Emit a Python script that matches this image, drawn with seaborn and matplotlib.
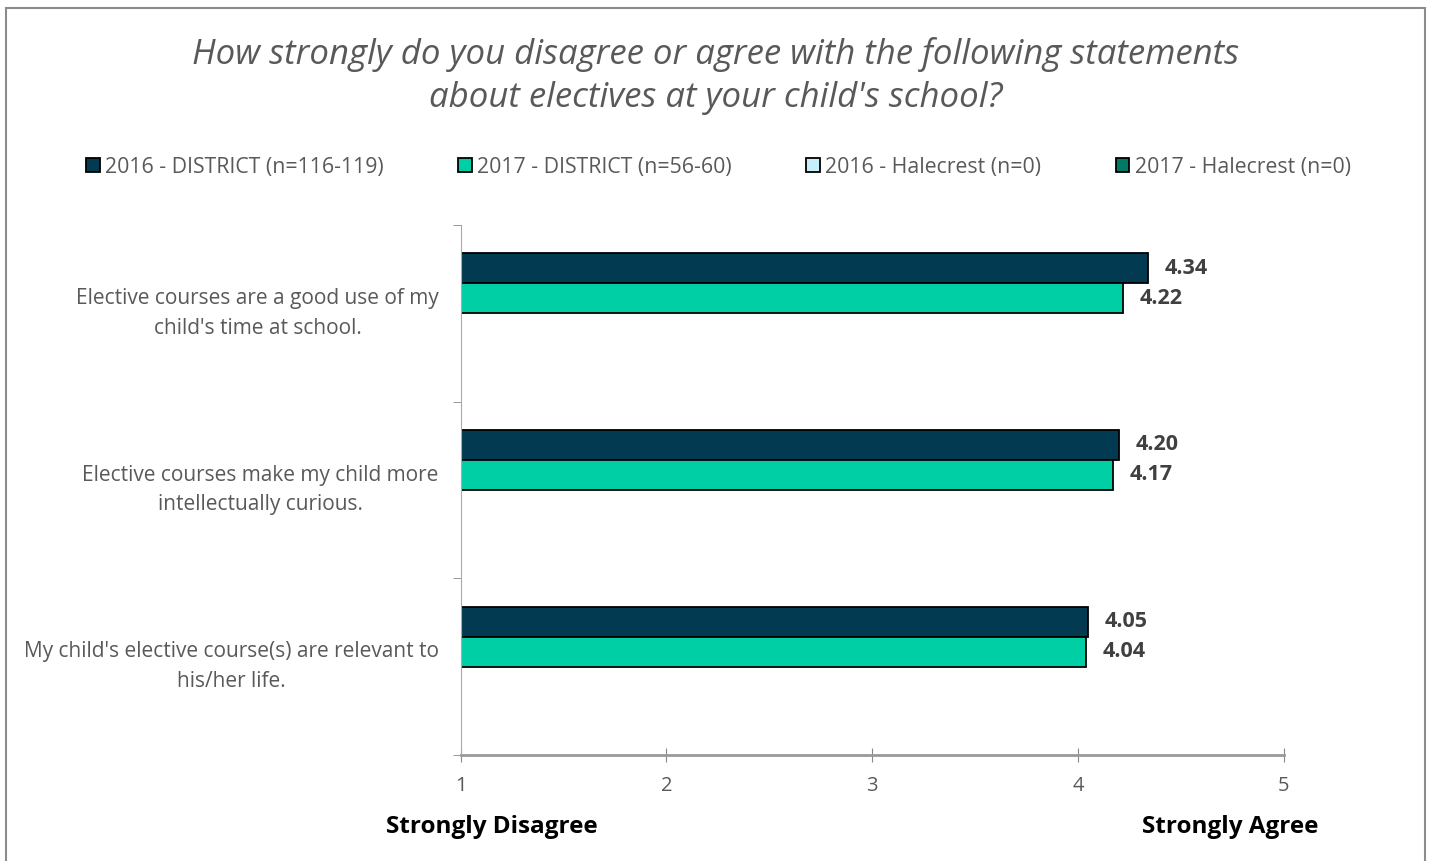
import numpy as np
import pandas as pd
import matplotlib.pyplot as plt
import matplotlib.patches as mpatches
import matplotlib.transforms as mtransforms
import seaborn as sns

statements = [
    "Elective courses are a good use of my\nchild's time at school.",
    "Elective courses make my child more\nintellectually curious.",
    "My child's elective course(s) are relevant to\nhis/her life.",
]
series = [
    "2016 - DISTRICT (n=116-119)",
    "2017 - DISTRICT (n=56-60)",
    "2016 - Halecrest (n=0)",
    "2017 - Halecrest (n=0)",
]
district_2016 = [4.34, 4.20, 4.05]
district_2017 = [4.22, 4.17, 4.04]
halecrest_2016 = [np.nan, np.nan, np.nan]
halecrest_2017 = [np.nan, np.nan, np.nan]
colors = ["#023A52", "#00CFA6", "#C9EEFB", "#007A64"]

rows = []
for name, vals in zip(series, [district_2016, district_2017, halecrest_2016, halecrest_2017]):
    for st, v in zip(statements, vals):
        rows.append({"statement": st, "series": name, "score": v})
df = pd.DataFrame(rows)

sns.set_style("white")
plt.rcParams['font.family'] = ['Open Sans', 'DejaVu Sans']

fig = plt.figure(figsize=(14.31, 8.61), dpi=100)
ax = fig.add_axes([0.322, 0.1231, 0.575, 0.6156])

sns.barplot(data=df, x="score", y="statement", hue="series", hue_order=series,
            order=statements, palette=colors, saturation=1, orient="h", width=0.68,
            edgecolor="black", linewidth=1.3, ax=ax, legend=False)

ax.set_xlim(1, 5)
ax.set_ylim(2.5, -0.5)
ax.set_xticks([1, 2, 3, 4, 5])
ax.set_xticklabels(["1", "2", "3", "4", "5"], color="#595959", fontsize=14.5)
ax.set_yticks(range(len(statements)))
ax.set_yticklabels([])
# category labels drawn as text, right edge just left of the axis
shift = mtransforms.ScaledTranslation(-22 / 100, 0, fig.dpi_scale_trans)
for i, st in enumerate(statements):
    ax.text(0, i, st, transform=ax.get_yaxis_transform() + shift, ha="right", va="center",
            multialignment="center", fontsize=15, color="#595959", linespacing=1.55)
ax.set_yticks([-0.5, 0.5, 1.5, 2.5], minor=True)
ax.tick_params(axis="y", which="major", length=0)
ax.tick_params(axis="y", which="minor", length=6, color="#888888", direction="out", left=True)
ax.tick_params(axis="x", which="major", length=10, color="#888888", direction="inout", bottom=True, pad=10)
ax.set_xlabel("")
ax.set_ylabel("")
for s in ["top", "right"]:
    ax.spines[s].set_visible(False)
ax.spines["left"].set_color("#aaaaaa")
ax.spines["bottom"].set_color("#999999")
ax.spines["bottom"].set_linewidth(2)

for cont in ax.containers:
    labels = ["" if np.isnan(v) else f"{v:.2f}" for v in cont.datavalues]
    ax.bar_label(cont, labels=labels, padding=12, fontsize=15.5, fontweight="bold", color="#404040")

fig.text(0.5, 0.912, "How strongly do you disagree or agree with the following statements\nabout electives at your child's school?",
         ha="center", va="center", fontsize=25, style="italic", color="#595959", linespacing=1.33)

handles = [mpatches.Patch(facecolor=c, edgecolor="black", linewidth=1.3, label=l) for c, l in zip(colors, series)]
fig.legend(handles=handles, loc="center", bbox_to_anchor=(0.502, 0.806), ncol=4, frameon=False,
           fontsize=15.3, handlelength=0.65, handleheight=0.65, handletextpad=0.25,
           columnspacing=3.5, labelcolor="#595959")

fig.text(0.344, 0.040, "Strongly Disagree", ha="center", va="center", fontsize=17.5, fontweight="bold", color="black")
fig.text(0.860, 0.040, "Strongly Agree", ha="center", va="center", fontsize=17.5, fontweight="bold", color="black")

fig.patches.append(mpatches.Rectangle((6 / 1431, -0.05), 1419 / 1431, 1.05 - 8 / 861, transform=fig.transFigure,
                                      fill=False, edgecolor="#8c8c8c", linewidth=1.5))

fig.savefig("out.png", dpi=100, facecolor="white")
